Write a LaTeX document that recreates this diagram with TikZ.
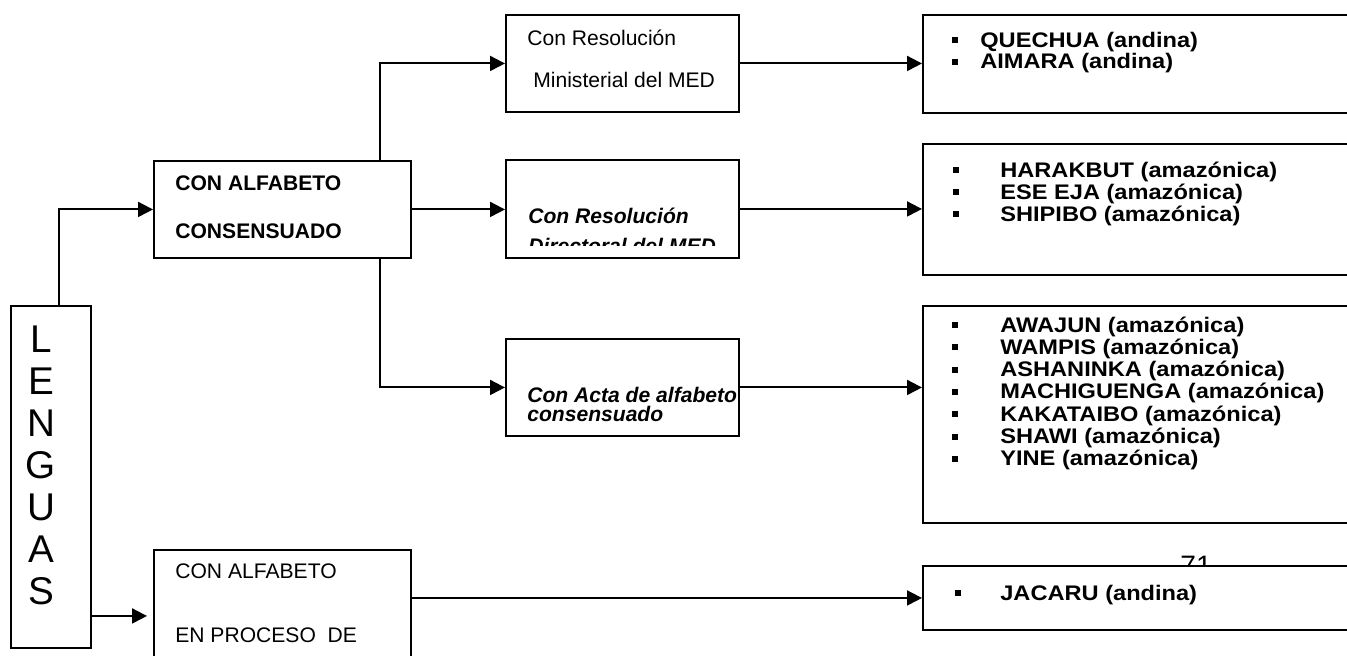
\documentclass[tikz,border=0pt]{standalone}
\usepackage{fontspec}
\usepackage{graphicx}
\setmainfont{Liberation Sans}
\usetikzlibrary{arrows.meta, positioning, calc}
\newcommand{\sqb}{\rule[0.08cm]{0.12cm}{0.12cm}}
\newcommand{\wide}[1]{\scalebox{1.12}[1]{#1}}

\begin{document}
\begin{tikzpicture}[x=0.02cm, y=-0.02cm,
    box/.style={draw, line width=1.1pt, fill=white, inner sep=0pt, anchor=north west},
    arr/.style={line width=1.1pt, -{Triangle[length=0.3cm, width=0.3cm]}},
    lbl/.style={font=\fontsize{12}{14}\selectfont, anchor=base west, inner sep=0pt},
    lblb/.style={font=\fontsize{12}{14}\selectfont\bfseries, anchor=base west, inner sep=0pt},
    lblbi/.style={font=\fontsize{12}{14}\selectfont\bfseries\itshape, anchor=base west, inner sep=0pt},
    item/.style={font=\fontsize{12}{14}\selectfont\bfseries, anchor=base west, inner sep=0pt}]
    \useasboundingbox (0,0) rectangle (1347,656);
    \clip (0,0) rectangle (1347,656);

    % page number, half hidden by the last box
    \node[font=\fontsize{16}{18}\selectfont, anchor=base, inner sep=0pt] (pag) at (1196,575) {71};

    % boxes
    \node[box, minimum width=1.6cm, minimum height=6.84cm] (lenguas) at (10,305) {};
    \node[box, minimum width=5.14cm, minimum height=1.94cm] (cac) at (153,160) {};
    \node[box, minimum width=5.14cm, minimum height=2.64cm] (proc) at (153,549) {};
    \node[box, minimum width=4.66cm, minimum height=1.94cm] (rm) at (505,14) {};
    \node[box, minimum width=4.66cm, minimum height=1.96cm] (rd) at (505,159) {};
    \node[box, minimum width=4.66cm, minimum height=1.94cm] (acta) at (505,338) {};
    \node[box, minimum width=9.56cm, minimum height=1.96cm] (l1) at (922,14) {};
    \node[box, minimum width=9.56cm, minimum height=2.62cm] (l2) at (922,143) {};
    \node[box, minimum width=9.56cm, minimum height=4.34cm] (l3) at (922,305) {};
    \node[box, minimum width=9.56cm, minimum height=1.28cm] (l4) at (922,565) {};

    % vertical title
    \foreach \c [count=\i from 0] in {L,E,N,G,U,A,S}
        \node[font=\fontsize{22}{24}\selectfont, anchor=base, inner sep=0pt] (let\i) at (41,{352+42*\i}) {\c};

    % texts in the middle column
    \node[lblb] (cac1) at (175,190) {CON ALFABETO};
    \node[lblb] (cac2) at (175,238) {CONSENSUADO};
    \node[lbl] (proc1) at (175,578) {CON ALFABETO};
    \node[lbl] (proc2) at (175,642) {EN PROCESO\ \ DE};
    \node[lbl] (rm1) at (527,45) {Con Resolución};
    \node[lbl] (rm2) at (533,87) {Ministerial del MED};
    \node[lblbi] (rd1) at (528,223) {Con Resolución};
    \begin{scope}
        \clip (505,159) rectangle (738,245);
        \node[lblbi] (rd2) at (528,253) {Directoral del MED};
    \end{scope}
    \node[lblbi] (acta1) at (527,402) {Con Acta de alfabeto};
    \node[lblbi] (acta2) at (527,421) {consensuado};

    % lists of languages
    \foreach \t [count=\i from 0] in {QUECHUA (andina), AIMARA (andina)}
        \node[item] (q\i) at (952,{47+21.5*\i}) {\makebox[0.56cm][l]{\sqb}\wide{\t}};
    \foreach \t [count=\i from 0] in {HARAKBUT (amazónica), ESE EJA (amazónica), SHIPIBO (amazónica)}
        \node[item] (h\i) at (953,{177+22*\i}) {\makebox[0.94cm][l]{\sqb}\wide{\t}};
    \foreach \t [count=\i from 0] in {AWAJUN (amazónica), WAMPIS (amazónica), ASHANINKA (amazónica),
        MACHIGUENGA (amazónica), KAKATAIBO (amazónica), SHAWI (amazónica), YINE (amazónica)}
        \node[item] (a\i) at (952,{332+22.3*\i}) {\makebox[0.96cm][l]{\sqb}\wide{\t}};
    \node[item] (j0) at (955,600) {\makebox[0.9cm][l]{\sqb}\wide{JACARU (andina)}};

    % connectors
    \draw[arr] ([xshift=0.16cm]lenguas.north) |- (cac.west);
    \draw[arr, shorten >=0.12cm] (lenguas.east |- proc.west) -- (proc.west);
    \draw[arr] (cac.east) -- (cac.east -| rd.west);
    \draw[arr] ([xshift=-0.64cm]cac.north east) |- (rm.west);
    \draw[arr] ([xshift=-0.64cm]cac.south east) |- (acta.west);
    \draw[arr] (rm.east) -- (rm.east -| l1.west);
    \draw[arr] (rd.east) -- (rd.east -| l2.west);
    \draw[arr] (acta.east) -- (acta.east -| l3.west);
    \draw[arr] (proc.east |- l4.west) -- (l4.west);
\end{tikzpicture}
\end{document}
